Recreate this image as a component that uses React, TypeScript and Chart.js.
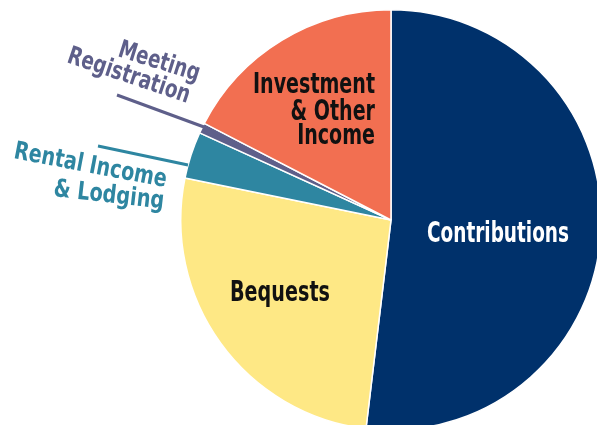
import React, { useEffect, useRef } from "react";
import { Chart, registerables } from "chart.js";

Chart.register(...registerables);

const categories = ["Contributions", "Bequests", "Rental Income & Lodging", "Meeting Registration", "Investment & Other Income"];
const shares = [51.9, 26.3, 3.6, 0.8, 17.4];
const colors = ["#00316B", "#FEE885", "#2E86A1", "#5E5F8A", "#F26F51"];

const FONT = '"DejaVu Sans Condensed", "DejaVu Sans", sans-serif';

function drawFit(ctx: any, text: string, x: number, y: number, width: number, align: string, angleDeg = 0, sxOverride?: number) {
  ctx.save();
  ctx.translate(x, y);
  if (angleDeg) ctx.rotate((angleDeg * Math.PI) / 180);
  const w = ctx.measureText(text).width;
  const sx = sxOverride ?? width / w;
  ctx.scale(sx, 1);
  ctx.textAlign = align;
  ctx.fillText(text, 0, 0);
  ctx.restore();
  return sx;
}

const labelPlugin = {
  id: "sliceLabels",
  afterDraw(chart: any) {
    const ctx = chart.ctx;
    ctx.save();
    ctx.textBaseline = "alphabetic";

    ctx.fillStyle = "#ffffff";
    ctx.font = `bold 28px ${FONT}`;
    drawFit(ctx, "Contributions", 427, 242, 142, "left");

    ctx.fillStyle = "#111111";
    drawFit(ctx, "Bequests", 230, 301, 100, "left");
    const sx = drawFit(ctx, "Investment", 375, 93, 122, "right");
    drawFit(ctx, "& Other", 375, 119.5, 0, "right", 0, sx);
    drawFit(ctx, "Income", 375, 144, 0, "right", 0, sx);

    // Meeting Registration
    ctx.fillStyle = "#5E5F8A";
    ctx.strokeStyle = "#5E5F8A";
    ctx.lineWidth = 3;
    ctx.beginPath();
    ctx.moveTo(117, 95);
    ctx.lineTo(204, 127);
    ctx.stroke();
    ctx.font = `bold 25px ${FONT}`;
    drawFit(ctx, "Meeting", 117, 56, 84, "left", 17.4);
    drawFit(ctx, "Registration", 66, 62, 128, "left", 18.7);

    // Rental Income & Lodging
    ctx.fillStyle = "#2E86A1";
    ctx.strokeStyle = "#2E86A1";
    ctx.beginPath();
    ctx.moveTo(98, 146);
    ctx.lineTo(188, 165);
    ctx.stroke();
    drawFit(ctx, "Rental Income", 13, 158, 155, "left", 10.8);
    drawFit(ctx, "& Lodging", 53, 196, 111, "left", 6.5);

    ctx.restore();
  },
};

export default function App() {
  const ref = useRef<HTMLCanvasElement | null>(null);
  useEffect(() => {
    document.body.style.margin = "0";
    const chart = new Chart(ref.current!, {
      type: "pie",
      data: {
        labels: categories,
        datasets: [
          {
            data: shares,
            backgroundColor: colors,
            borderColor: "#ffffff",
            borderWidth: 1.5,
          },
        ],
      },
      options: {
        responsive: false,
        animation: false,
        layout: { padding: { left: 180, right: 8, top: 9, bottom: 9 } },
        plugins: { legend: { display: false }, tooltip: { enabled: false } },
      },
      plugins: [labelPlugin],
    });
    return () => chart.destroy();
  }, []);
  return (
    <div style={{ position: "fixed", left: 0, top: 0, width: 597, height: 425, overflow: "hidden", background: "#fff" }}>
      <canvas ref={ref} width={610} height={440} style={{ display: "block" }} />
    </div>
  );
}
